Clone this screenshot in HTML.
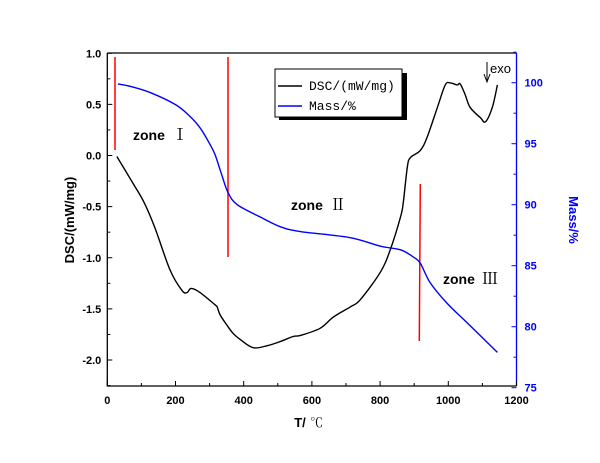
<!DOCTYPE html>
<html><head><meta charset="utf-8"><style>
body{margin:0;background:#fff}
svg{display:block}
.tk{font:bold 11px "Liberation Sans",sans-serif}
</style></head><body>
<svg id="c" width="600" height="463" viewBox="0 0 600 463"></svg>
<script>
const xTicks=[0,200,400,600,800,1000,1200];
const yTicks=[1.0,0.5,0.0,-0.5,-1.0,-1.5,-2.0];
const y2Ticks=[75,80,85,90,95,100];
const dscT=[28,75,108,140,184,219,234,246,272,316,322,331,351,369,390,428,469,507,545,566,624,663,713,742,801,830,860,868,880,889,918,938,968,991,1006,1026,1035,1050,1064,1094,1109,1129,1144];
const dscV=[-0.01,-0.27,-0.46,-0.71,-1.12,-1.32,-1.34,-1.30,-1.34,-1.46,-1.48,-1.56,-1.66,-1.74,-1.80,-1.88,-1.86,-1.82,-1.77,-1.76,-1.69,-1.58,-1.48,-1.41,-1.14,-0.92,-0.60,-0.46,-0.11,-0.02,0.05,0.18,0.47,0.69,0.71,0.69,0.70,0.59,0.47,0.37,0.33,0.47,0.69];
const massT=[31,67,125,200,240,272,300,316,335,354,381,448,507,566,712,801,860,898,918,947,997,1056,1144];
const massV=[99.9,99.7,99.2,98.2,97.3,96.3,95.0,94.1,92.5,91.0,90.0,89.0,88.2,87.8,87.3,86.6,86.3,85.7,85.2,83.6,81.9,80.3,77.9];
const L=107.3,R=516.5,T=53,B=386;
const X=t=>L+t*(R-L)/1200;
const Y=v=>155.5-v*102.25;
const Y2=m=>82.7-(m-100)*12.2;
const svg=document.getElementById('c');
const NS='http://www.w3.org/2000/svg';
function mk(tag,at,txt){const e=document.createElementNS(NS,tag);for(const k in at)e.setAttribute(k,at[k]);if(txt!=null)e.textContent=txt;svg.appendChild(e);return e;}
function smooth(p){let d=`M${p[0][0]},${p[0][1]}`;for(let i=0;i<p.length-1;i++){const a=p[i-1]||p[i],b=p[i],c=p[i+1],n=p[i+2]||c;
d+=` C${b[0]+(c[0]-a[0])/6},${b[1]+(c[1]-a[1])/6} ${c[0]-(n[0]-b[0])/6},${c[1]-(n[1]-b[1])/6} ${c[0]},${c[1]}`;}return d;}
let e;
e=mk('path',{d:`M${L},${T}H${R}M${L},${T}V${B}H${R}`,stroke:'#000','stroke-width':1.3,fill:'none'});


e=mk('line',{x1:R,y1:T,x2:R,y2:B,stroke:'#00f','stroke-width':1.3});


for(let t=0;t<=1200;t+=100){const maj=t%200===0;
e=mk('line',{x1:X(t),x2:X(t),y1:B,y2:B-(maj?5:3),stroke:'#000'});

}
xTicks.forEach(t=>{e=mk('text',{x:X(t),y:B+18,class:'tk','text-anchor':'middle'},String(t));

});
for(let v=-2.25;v<=1.0001;v+=0.25){const maj=Math.abs(v*2-Math.round(v*2))<1e-6;
e=mk('line',{x1:L,x2:L+(maj?5:3),y1:Y(v),y2:Y(v),stroke:'#000'});

}
yTicks.forEach(v=>{e=mk('text',{x:L-6,y:Y(v)+4,class:'tk','text-anchor':'end'},v.toFixed(1));

});
for(let m=75;m<=102.5;m+=2.5){const maj=m%5===0;
e=mk('line',{x1:R,x2:R-(maj?5:3),y1:Y2(m),y2:Y2(m),stroke:'#00f'});

}
y2Ticks.forEach(m=>{e=mk('text',{x:R+8,y:Y2(m)+4,class:'tk',fill:'#00f'},String(m));

});
e=mk('text',{x:300,y:427,'font-family':'Liberation Sans, Noto Sans CJK SC, sans-serif','font-size':13,'font-weight':'bold','text-anchor':'middle'},'T/');


e=mk('text',{x:310,y:427,'font-family':'Noto Serif CJK SC, serif','font-size':13},'℃');


e=mk('text',{x:0,y:0,transform:'translate(74,220) rotate(-90)','font-family':'Liberation Sans, sans-serif','font-size':13,'font-weight':'bold','text-anchor':'middle'},'DSC/(mW/mg)');


e=mk('text',{x:0,y:0,transform:'translate(569,220) rotate(90)','font-family':'Liberation Sans, sans-serif','font-size':13,'font-weight':'bold','text-anchor':'middle',fill:'#00f'},'Mass/%');


[[115,57,115,150],[228,57,228,257],[420.3,184,419.3,341]].forEach(p=>{
e=mk('line',{x1:p[0],y1:p[1],x2:p[2],y2:p[3],stroke:'#f00','stroke-width':1.5});

});
e=mk('path',{d:smooth(dscT.map((t,i)=>[X(t),Y(dscV[i])])),fill:'none',stroke:'#000','stroke-width':1.4});


e=mk('path',{d:smooth(massT.map((t,i)=>[X(t),Y2(massV[i])])),fill:'none',stroke:'#00f','stroke-width':1.4});


[['Ⅰ',133,140,'zone-1-label'],['Ⅱ',291,210,'zone-2-label'],['Ⅲ',443,284,'zone-3-label']].forEach(z=>{
e=mk('text',{x:z[1],y:z[2],'font-family':'Liberation Sans, sans-serif','font-size':14,'font-weight':'bold'},'zone');


e=mk('text',{x:z[1]+39,y:z[2],'font-family':'Noto Serif CJK SC, serif','font-size':16},z[0]);

});
e=mk('text',{x:490,y:73,'font-family':'Liberation Sans, sans-serif','font-size':13},'exo');


e=mk('path',{d:'M487,62V80M484,74L487,82L490,74',stroke:'#000',fill:'none','stroke-width':1});


e=mk('rect',{x:279,y:73,width:128,height:47,fill:'#000'});


e=mk('rect',{x:275,y:69,width:127,height:48,fill:'#fff',stroke:'#000','stroke-width':1});


e=mk('line',{x1:278,x2:302,y1:86,y2:86,stroke:'#000','stroke-width':1.4});


e=mk('line',{x1:278,x2:302,y1:106,y2:106,stroke:'#00f','stroke-width':1.4});


e=mk('text',{x:309,y:90,'font-family':'Liberation Mono, monospace','font-size':13},'DSC/(mW/mg)');


e=mk('text',{x:309,y:110,'font-family':'Liberation Mono, monospace','font-size':13},'Mass/%');


</script>
</body></html>
